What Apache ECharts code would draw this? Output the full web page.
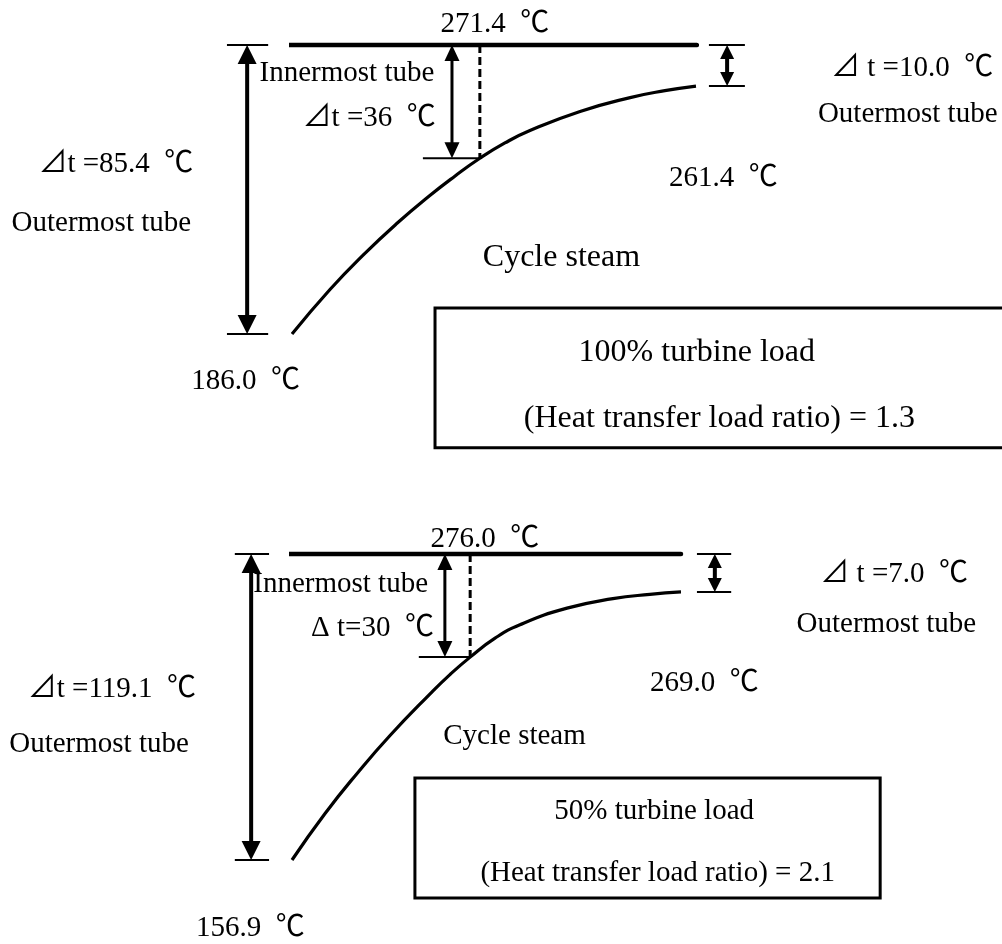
<!DOCTYPE html>
<html><head><meta charset="utf-8">
<script src="https://cdn.jsdelivr.net/npm/echarts@6/dist/echarts.min.js"></script>
<style>html,body{margin:0;padding:0;background:#fff}#c{width:1002px;height:944px}</style>
</head><body><div id="c"></div>
<script>
// ---------------- data ----------------
const loadLabels = ['100% turbine load', '50% turbine load'];
const ratioLabels = ['(Heat transfer load ratio) = 1.3', '(Heat transfer load ratio) = 2.1'];
const innerTemps = [271.4, 276.0];   // innermost tube temperature (℃)
const outletTemps = [261.4, 269.0];  // cycle steam outlet (℃)
const inletTemps = [186.0, 156.9];   // cycle steam inlet (℃)
const pinchLabels = ['⊿t =36  ℃', 'Δ t=30  ℃'];
const outerLeftLabels = ['⊿t =85.4  ℃', '⊿t =119.1  ℃'];
const outerRightLabels = ['⊿ t =10.0  ℃', '⊿ t =7.0  ℃'];
// cycle steam curve: [position along tube (%), relative level between inlet (0) and innermost tube (100)]
const steamCurve100 = [[0,0],[9.4,15.4],[17.6,27.3],[26.0,38.3],[34.2,48.0],[40.3,54.6],[46.5,60.8],[52.7,66.1],[58.9,70.4],[71.3,77.0],[83.7,81.8],[92.3,84.2],[100,85.8]];
const steamCurve50 = [[0,0],[8.5,15.2],[17.0,28.7],[25.2,40.7],[35.5,54.3],[40.6,60.6],[45.8,66.3],[52.2,72.5],[58.6,76.9],[70.7,82.3],[82.5,85.4],[92.0,86.8],[100,87.6]];
const pinchPos = [46.5, 45.8];
const pinchLevels = [60.8, 66.3];

// ---------------- layout (panel units) ----------------
const FONT = '"Liberation Serif", "Noto Sans CJK SC", serif';
const layouts = [
  { lineX: [-1, 100.2], leftX: -11.1, leftTick: [-16.1, -5.9], pinchArrowX: 39.6, pinchTickX: 32.4,
    rightX: 107.7, rightTick: [103.2, 112.1],
    box: [35.4, 9.0, 178, -39.4],
    t: { top: [50.2, 107.2], inner: [13.6, 90.2], pinch: [19.1, 74.6], outL: [-43.6, 58.7], outLname: [-47.2, 38.3],
         inlet: [-11.5, -16.4], outR: [153.5, 91.9], outRname: [152.4, 76.0], outlet: [106.8, 53.9],
         steam: [66.7, 26.6], load: [100.2, -6.4], ratio: [105.8, -29.2] },
    steamFs: 32, boxFs: 32 },
  { lineX: [-1.5, 100], leftX: -10.5, leftTick: [-14.7, -5.9], pinchArrowX: 39.3, pinchTickX: 32.6,
    rightX: 108.7, rightTick: [104.1, 112.9],
    box: [31.6, 26.8, 151.2, -12.4],
    t: { top: [49.6, 104.8], inner: [12.5, 90.1], pinch: [20.7, 75.7], outL: [-46.3, 55.8], outLname: [-49.6, 37.8],
         inlet: [-10.7, -22.3], outR: [154.8, 93.4], outRname: [152.8, 77.0], outlet: [106.0, 57.7],
         steam: [57.2, 40.4], load: [93.1, 16.0], ratio: [94.0, -4.3] },
    steamFs: 29, boxFs: 29 }
];
const curves = [steamCurve100, steamCurve50];

function fmtT(v) { return v.toFixed(1) + '  ℃'; }

function makeRender(i) {
  const L = layouts[i];
  const curve = curves[i];
  const outletLevel = curve[curve.length - 1][1];
  return function (params, api) {
    const c = p => api.coord(p);
    const kids = [];
    const K = '#000';
    function seg(a, b, w, dash) {
      kids.push({ type: 'line', shape: { x1: a[0], y1: a[1], x2: b[0], y2: b[1] },
        style: { stroke: K, lineWidth: w, lineDash: dash || null } });
    }
    function head(tip, dir, len, wid) {
      kids.push({ type: 'polygon', shape: { points: [[tip[0], tip[1]], [tip[0] - wid / 2, tip[1] - dir * len], [tip[0] + wid / 2, tip[1] - dir * len]] },
        style: { fill: K } });
    }
    function dim(x, yTop, yBot, len, wid, w) {
      const a = c([x, yTop]), b = c([x, yBot]);
      seg([a[0], a[1] + len * 0.8], [b[0], b[1] - len * 0.8], w);
      head(a, -1, len, wid); head(b, 1, len, wid);
    }
    function tick(x1, x2, y, w) { seg(c([x1, y]), c([x2, y]), w); }
    function text(str, pos, fs) {
      const p = c(pos);
      kids.push({ type: 'text', x: p[0], y: p[1], style: { text: str, fill: K, font: fs + 'px ' + FONT, align: 'center', verticalAlign: 'middle' } });
    }
    // left overall dimension
    tick(L.leftTick[0], L.leftTick[1], 100, 2);
    tick(L.leftTick[0], L.leftTick[1], 0, 2);
    dim(L.leftX, 100, 0, 19, 19, 4);
    // pinch
    tick(L.pinchTickX, pinchPos[i], pinchLevels[i], 2);
    dim(L.pinchArrowX, 100, pinchLevels[i], 16, 15, 3);
    seg(c([pinchPos[i], 100]), c([pinchPos[i], pinchLevels[i]]), 3, [8, 4]);
    // right dimension
    tick(L.rightTick[0], L.rightTick[1], 100, 2);
    tick(L.rightTick[0], L.rightTick[1], outletLevel, 2);
    dim(L.rightX, 100, outletLevel, 14, 14, 4);
    // box
    const b1 = c([L.box[0], L.box[1]]), b2 = c([L.box[2], L.box[3]]);
    kids.push({ type: 'rect', shape: { x: b1[0], y: b1[1], width: b2[0] - b1[0], height: b2[1] - b1[1] },
      style: { fill: 'none', stroke: K, lineWidth: 3 } });
    // texts
    const T = L.t;
    text(fmtT(innerTemps[i]), T.top, 29);
    text('Innermost tube', T.inner, 29);
    text(pinchLabels[i], T.pinch, 29);
    text(outerLeftLabels[i], T.outL, 29);
    text('Outermost tube', T.outLname, 29);
    text(fmtT(inletTemps[i]), T.inlet, 29);
    text(outerRightLabels[i], T.outR, 29);
    text('Outermost tube', T.outRname, 29);
    text(fmtT(outletTemps[i]), T.outlet, 29);
    text('Cycle steam', T.steam, L.steamFs);
    text(loadLabels[i], T.load, L.boxFs);
    text(ratioLabels[i], T.ratio, L.boxFs);
    return { type: 'group', children: kids };
  };
}

const grids = [
  { left: 292, top: 45, width: 404, height: 289 },
  { left: 292, top: 554, width: 389, height: 306 }
];
const series = [];
[0, 1].forEach(i => {
  series.push({
    type: 'line', xAxisIndex: i, yAxisIndex: i, data: curves[i], smooth: 0.5, showSymbol: false, clip: false,
    lineStyle: { color: '#000', width: 3.2 }, silent: true
  });
  series.push({
    type: 'line', xAxisIndex: i, yAxisIndex: i, data: [[layouts[i].lineX[0], 100], [layouts[i].lineX[1], 100]],
    showSymbol: false, clip: false, lineStyle: { color: '#000', width: 4.5, cap: 'round' }, silent: true
  });
  series.push({
    type: 'custom', xAxisIndex: i, yAxisIndex: i, data: [[0, 0]], renderItem: makeRender(i), clip: false, silent: true
  });
});

const chart = echarts.init(document.getElementById('c'), null, { renderer: 'canvas' });
chart.setOption({
  backgroundColor: '#fff',
  animation: false,
  grid: grids,
  xAxis: [0, 1].map(i => ({ type: 'value', gridIndex: i, min: 0, max: 100, show: false })),
  yAxis: [0, 1].map(i => ({ type: 'value', gridIndex: i, min: 0, max: 100, show: false })),
  series: series
});
</script></body></html>
